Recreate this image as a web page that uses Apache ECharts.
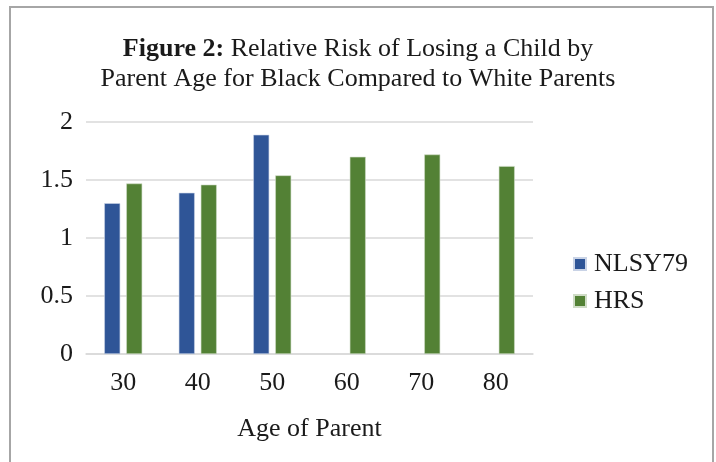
<!DOCTYPE html>
<html>
<head>
<meta charset="utf-8">
<script src="https://cdn.jsdelivr.net/npm/echarts@6/dist/echarts.min.js"></script>
<style>
html,body{margin:0;padding:0;background:#fff;}
#chart{width:716px;height:462px;}
</style>
</head>
<body>
<div id="chart"></div>
<script>
var categories = ['30', '40', '50', '60', '70', '80'];
var nlsy79 = [1.30, 1.39, 1.89, null, null, null];
var hrs = [1.47, 1.46, 1.54, 1.70, 1.72, 1.62];
var seriesNames = ['NLSY79', 'HRS'];
var yTicks = { min: 0, max: 2, interval: 0.5 };

var serif = '"Liberation Serif", "Times New Roman", serif';
var fs = 26;
var chart = echarts.init(document.getElementById('chart'));
chart.setOption({
  backgroundColor: '#ffffff',
  animation: false,
  graphic: [{
    type: 'rect',
    shape: { x: 10, y: 7, width: 703, height: 480 },
    style: { fill: 'none', stroke: '#a6a6a6', lineWidth: 2 },
    silent: true
  }],
  title: {
    text: '{b|Figure 2:} Relative Risk of Losing a Child by\nParent Age for Black Compared to White Parents',
    left: 'center',
    top: 29,
    textStyle: {
      fontFamily: serif,
      fontSize: fs,
      fontWeight: 'normal',
      color: '#1a1a1a',
      lineHeight: 30,
      rich: {
        b: { fontFamily: serif, fontSize: fs, fontWeight: 'bold', color: '#1a1a1a', lineHeight: 30 }
      }
    }
  },
  legend: {
    orient: 'vertical',
    left: 568,
    top: 246,
    itemWidth: 12,
    itemHeight: 12,
    itemGap: 11,
    icon: 'rect',
    textStyle: { fontFamily: serif, fontSize: fs, color: '#1a1a1a', padding: [0, 0, 0, 3] },
    data: seriesNames
  },
  grid: { left: 86, right: 183, top: 122, bottom: 108, containLabel: false },
  xAxis: {
    type: 'category',
    data: categories,
    name: 'Age of Parent',
    nameLocation: 'middle',
    nameGap: 62,
    nameTextStyle: { fontFamily: serif, fontSize: fs, color: '#1a1a1a' },
    axisLine: { lineStyle: { color: '#d9d9d9', width: 1.5 } },
    axisTick: { show: false },
    axisLabel: { fontFamily: serif, fontSize: fs, color: '#1a1a1a', margin: 16 }
  },
  yAxis: {
    type: 'value',
    min: yTicks.min,
    max: yTicks.max,
    interval: yTicks.interval,
    axisLine: { show: false },
    axisTick: { show: false },
    splitLine: { lineStyle: { color: '#d9d9d9', width: 1.5 } },
    axisLabel: { fontFamily: serif, fontSize: fs, color: '#1a1a1a', margin: 13 }
  },
  series: [
    {
      name: seriesNames[0], type: 'bar', data: nlsy79, barWidth: 16, barGap: '37.5%',
      itemStyle: { color: '#2f5597', borderColor: '#c9d3e6', borderWidth: 0.6 }
    },
    {
      name: seriesNames[1], type: 'bar', data: hrs, barWidth: 16,
      itemStyle: { color: '#538135', borderColor: '#cfdcc6', borderWidth: 0.6 }
    }
  ]
});
</script>
</body>
</html>
